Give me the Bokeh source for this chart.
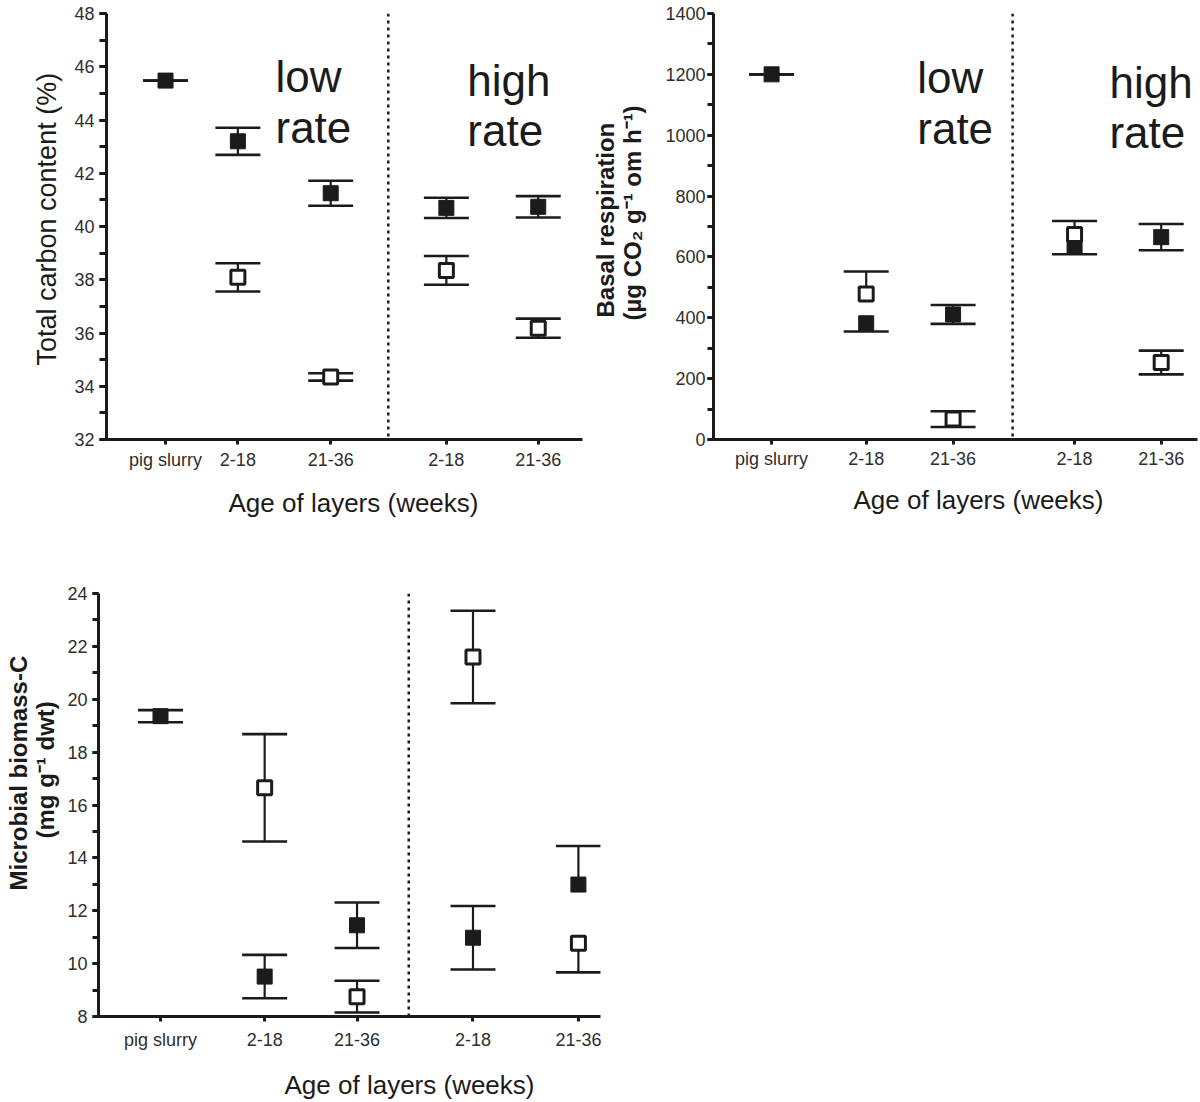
import numpy as np
from bokeh.plotting import figure
from bokeh.models import Span, Label, Title, FixedTicker, SingleIntervalTicker, Range1d
from bokeh.layouts import column, row
from bokeh.embed import file_html
from bokeh.resources import INLINE

# ---------------- data ----------------
categories = ["pig slurry", "2-18", "21-36", "2-18", "21-36"]
rate_labels = [["low", "rate"], ["high", "rate"]]

# Total carbon content (%)
tc_filled = [45.48, 43.20, 41.25, 40.70, 40.74]
tc_filled_up = [0.0, 0.51, 0.47, 0.38, 0.40]
tc_filled_dn = [0.0, 0.51, 0.47, 0.38, 0.40]
tc_open = [None, 38.09, 34.35, 38.35, 36.18]
tc_open_up = [None, 0.53, 0.14, 0.54, 0.36]
tc_open_dn = [None, 0.53, 0.14, 0.54, 0.36]

# Basal respiration (ug CO2 g-1 om h-1)
br_filled = [1200, 382, 411, 633, 665]
br_filled_up = [0, None, 31, None, 43]
br_filled_dn = [0, 27, 31, 24, 43]
br_open = [None, 478, 67, 674, 253]
br_open_up = [None, 74, 26, 44, 39]
br_open_dn = [None, None, 26, None, 39]

# Microbial biomass-C (mg g-1 dwt)
mb_filled = [19.36, 9.51, 11.45, 10.98, 12.99]
mb_filled_up = [0.23, 0.82, 0.86, 1.20, 1.46]
mb_filled_dn = [0.23, 0.82, 0.86, 1.20, None]
mb_open = [None, 16.65, 8.75, 21.60, 10.77]
mb_open_up = [None, 2.03, 0.60, 1.75, None]
mb_open_dn = [None, 2.03, 0.60, 1.75, 1.10]

# ---------------- style ----------------
INK = "#1b1b1b"
TICK_TXT = "#2e2e2e"
FONT = "Liberation Sans"


def arr(v):
    return np.array([np.nan if a is None else a for a in v], dtype=float)


def make_panel(width, height, left, right, top, bottom, yr, y_interval,
               slot_x, divider_x, ytick_out, ylab_standoff, xlab_standoff,
               y_gap, x_gap):
    p = figure(width=width, height=height, output_backend="svg",
               toolbar_location=None, x_range=Range1d(0, 10),
               y_range=Range1d(*yr))
    p.min_border_left = left
    p.min_border_right = right
    p.min_border_top = top
    p.min_border_bottom = bottom
    p.outline_line_color = None
    p.xgrid.visible = False
    p.ygrid.visible = False
    p.background_fill_color = "white"
    p.border_fill_color = "white"

    p.yaxis.ticker = SingleIntervalTicker(interval=y_interval, num_minor_ticks=2)
    p.xaxis.ticker = FixedTicker(ticks=list(slot_x), minor_ticks=[])
    p.xaxis.major_label_overrides = {float(x): c for x, c in zip(slot_x, categories)}

    for ax in (p.xaxis[0], p.yaxis[0]):
        ax.axis_line_width = 3
        ax.axis_line_color = INK
        ax.major_tick_line_width = 3
        ax.major_tick_line_color = INK
        ax.minor_tick_line_width = 3
        ax.minor_tick_line_color = INK
        ax.major_tick_in = 0
        ax.minor_tick_in = 0
        ax.major_label_text_font = FONT
        ax.major_label_text_font_size = "18px"
        ax.major_label_text_color = TICK_TXT
        # spacer so that the titles below / left sit at the right distance
        ax.axis_label = " "
        ax.axis_label_text_font_size = "1px"
    p.yaxis.major_tick_out = ytick_out
    p.yaxis.minor_tick_out = ytick_out
    p.yaxis.major_label_standoff = ylab_standoff
    p.yaxis.axis_label_standoff = y_gap
    p.xaxis.major_tick_out = 5
    p.xaxis.minor_tick_out = 0
    p.xaxis.major_label_standoff = xlab_standoff
    p.xaxis.axis_label_standoff = x_gap

    p.add_layout(Span(location=divider_x, dimension="height", line_color=INK,
                      line_width=2.5, line_dash="3 4"))
    return p


def draw_whiskers(p, xs, mean, up, dn):
    m = arr(mean)
    hi = m + arr(up)
    lo = m - arr(dn)
    top = np.where(np.isnan(hi), m, hi)
    bot = np.where(np.isnan(lo), m, lo)
    xs = np.asarray(xs, dtype=float)
    p.segment(x0=xs, y0=bot, x1=xs, y1=top, line_color=INK, line_width=2.2)
    p.scatter(x=xs, y=hi, marker="dash", size=45, line_color=INK, line_width=2.6)
    p.scatter(x=xs, y=lo, marker="dash", size=45, line_color=INK, line_width=2.6)


def draw_markers(p, xs, mean, filled):
    m = arr(mean)
    xs = np.asarray(xs, dtype=float)
    if filled:
        p.scatter(x=xs, y=m, marker="square", size=15, fill_color=INK,
                  line_color=INK, line_width=1)
    else:
        p.scatter(x=xs, y=m, marker="square", size=14, fill_color="white",
                  line_color=INK, line_width=3)


def series(p, xs, f, fu, fd, o, ou, od):
    draw_whiskers(p, xs, f, fu, fd)
    draw_whiskers(p, xs, o, ou, od)
    draw_markers(p, xs, f, True)
    draw_markers(p, xs, o, False)


def side_title(p, text, side, offset, valign, size="26px", bold=False):
    p.add_layout(Title(text=text, align="left", offset=offset,
                       vertical_align=valign, standoff=0,
                       text_font=FONT, text_font_size=size,
                       text_font_style="bold" if bold else "normal",
                       text_color=INK), side)


def rate_text(p, words, x, y1, y2):
    for w, yy in zip(words, (y1, y2)):
        p.add_layout(Label(x=x, y=yy, text=w, text_font=FONT, text_font_size="44px",
                           text_color=INK, text_align="left",
                           text_baseline="alphabetic"))


H1 = 560
H3 = 541
W1 = 584
W2 = 615

# ---------- panel 1: total carbon ----------
slot1 = [1.24, 2.76, 4.71, 7.14, 9.07]
p1 = make_panel(W1, H1, 106, 2, 13, H1 - 13 - 426, (32, 48), 2, slot1, 5.92,
                ytick_out=7, ylab_standoff=5, xlab_standoff=5, y_gap=6, x_gap=11)
series(p1, slot1, tc_filled, tc_filled_up, tc_filled_dn,
       tc_open, tc_open_up, tc_open_dn)
rate_text(p1, rate_labels[0], 3.55, 45.63, 43.73)
rate_text(p1, rate_labels[1], 7.58, 45.48, 43.60)
side_title(p1, "Total carbon content (%)", "left", 74, "bottom", size="27px")
side_title(p1, "Age of layers (weeks)", "below", 122, "top")

# ---------- panel 2: basal respiration ----------
slot2 = [1.20, 3.155, 4.95, 7.46, 9.25]
p2 = make_panel(W2, H1, 129, 2, 12, H1 - 12 - 427, (0, 1400), 200, slot2, 6.18,
                ytick_out=6, ylab_standoff=2, xlab_standoff=4, y_gap=11, x_gap=9)
series(p2, slot2, br_filled, br_filled_up, br_filled_dn,
       br_open, br_open_up, br_open_dn)
rate_text(p2, rate_labels[0], 4.21, 1190, 1022)
rate_text(p2, rate_labels[1], 8.18, 1172, 1008)
side_title(p2, "(µg CO\u2082 g\u207b\u00b9 om h\u207b\u00b9)", "left", 119, "top",
           size="24px", bold=True)
side_title(p2, "Basal respiration", "left", 122, "bottom", size="24px", bold=True)
side_title(p2, "Age of layers (weeks)", "below", 140, "top")

# ---------- panel 3: microbial biomass ----------
slot3 = [1.235, 3.31, 5.15, 7.46, 9.56]
p3 = make_panel(602, H3, 98, 2, 33, H3 - 33 - 428, (8, 24), 2, slot3, 6.18,
                ytick_out=6, ylab_standoff=5, xlab_standoff=8, y_gap=0, x_gap=13)
series(p3, slot3, mb_filled, mb_filled_up, mb_filled_dn,
       mb_open, mb_open_up, mb_open_dn)
side_title(p3, "(mg g\u207b\u00b9 dwt)", "left", 178, "top", size="24px", bold=True)
side_title(p3, "Microbial biomass-C", "left", 126, "bottom", size="24px", bold=True)
side_title(p3, "Age of layers (weeks)", "below", 186, "top")

layout = column(row(p1, p2), p3)
open("out.html", "w").write(file_html(layout, INLINE))
